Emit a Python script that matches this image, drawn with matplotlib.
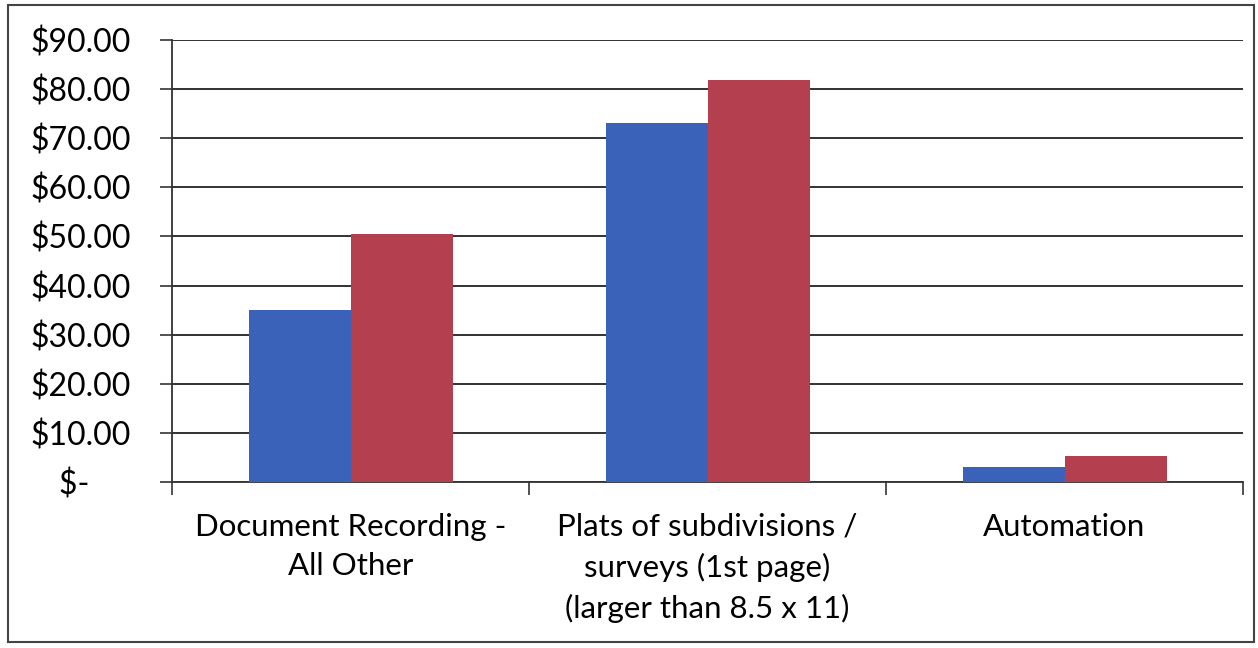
import numpy as np
import matplotlib.pyplot as plt
from matplotlib.ticker import FixedLocator, FuncFormatter
from matplotlib.patches import Rectangle

categories = ['Document Recording -\nAll Other',
              'Plats of subdivisions /\nsurveys (1st page)\n(larger than 8.5 x 11)',
              'Automation']
current_fee = [35.0, 73.0, 3.0]
proposed_fee = [50.5, 81.9, 5.2]
y_ticks = [0, 10, 20, 30, 40, 50, 60, 70, 80, 90]

plt.rcParams['font.family'] = ['Lato', 'DejaVu Sans']

fig = plt.figure(figsize=(12.58, 6.48), dpi=100)
ax = fig.add_axes([172 / 1258, 1 - 482 / 648, 1071 / 1258, 442 / 648])

x = np.arange(len(categories))
width = 1 / 3.5
ax.bar(x - width / 2, current_fee, width, color='#3a62b8', zorder=3)
ax.bar(x + width / 2, proposed_fee, width, color='#b4404f', zorder=3)

ax.set_xlim(-0.5, len(categories) - 0.5)
ax.set_ylim(0, 90)

def money(v, pos):
    if v == 0:
        return '$-     '
    return '${:.2f}'.format(v)

ax.yaxis.set_major_locator(FixedLocator(y_ticks))
ax.yaxis.set_major_formatter(FuncFormatter(money))
ax.grid(axis='y', color='#222222', linewidth=1.3, zorder=0)

ax.set_xticks(x)
ax.set_xticklabels(categories, fontsize=22.5, linespacing=1.5)
ax.tick_params(axis='x', length=0, pad=22)
ax.xaxis.set_minor_locator(FixedLocator([-0.5, 0.5, 1.5, 2.5]))
ax.tick_params(axis='x', which='minor', length=9, width=1.2, color='#333333')
ax.tick_params(axis='y', length=8.5, width=1.2, color='#333333', labelsize=23, pad=21)

for side in ['top', 'right']:
    ax.spines[side].set_visible(False)
ax.spines['left'].set_color('#333333')
ax.spines['left'].set_linewidth(1.3)
ax.spines['bottom'].set_color('#333333')
ax.spines['bottom'].set_linewidth(1.3)

# outer frame around the chart
fig.patches.append(Rectangle((8 / 1258, 6 / 648), 1246 / 1258, 637 / 648,
                             transform=fig.transFigure, fill=False,
                             edgecolor='#444444', linewidth=1.5))

fig.savefig('out.png', dpi=100)
